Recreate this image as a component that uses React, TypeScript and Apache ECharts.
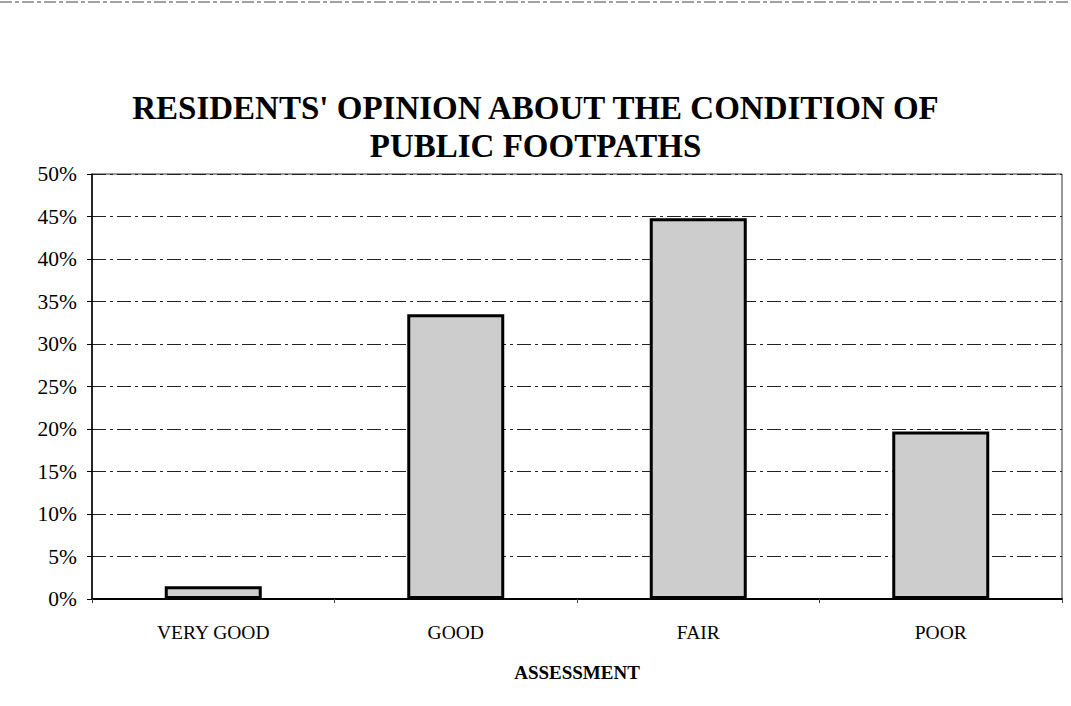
import React, { useEffect, useRef } from "react";
import * as echarts from "echarts";

const categories: string[] = ["VERY GOOD", "GOOD", "FAIR", "POOR"];
const values: number[] = [1.5, 33.5, 44.8, 19.7];
const yTicks: number[] = [0, 5, 10, 15, 20, 25, 30, 35, 40, 45, 50];
const titleText = "RESIDENTS' OPINION ABOUT THE CONDITION OF\nPUBLIC FOOTPATHS";
const xAxisName = "ASSESSMENT";

const FONT = "'Liberation Serif', 'Times New Roman', serif";

export default function App() {
  const ref = useRef<HTMLDivElement>(null);
  useEffect(() => {
    if (!ref.current) return;
    const chart = echarts.init(ref.current, null, { renderer: "svg" });
    chart.setOption({
      animation: false,
      backgroundColor: "#ffffff",
      title: {
        text: titleText,
        left: "center",
        top: 84,
        textStyle: {
          fontFamily: FONT,
          fontWeight: "bold",
          fontSize: 33,
          lineHeight: 38,
          color: "#000",
        },
      },
      grid: {
        left: 92,
        right: 9,
        top: 174,
        bottom: 107,
        show: true,
        borderColor: "#333",
        borderWidth: 1,
      },
      xAxis: {
        type: "category",
        data: categories,
        name: xAxisName,
        nameLocation: "middle",
        nameGap: 64,
        nameTextStyle: {
          fontFamily: FONT,
          fontWeight: "bold",
          fontSize: 19,
          color: "#000",
        },
        axisLine: { show: true, lineStyle: { color: "#000", width: 2 } },
        axisTick: { show: true, length: 4, lineStyle: { color: "#444" } },
        axisLabel: {
          fontFamily: FONT,
          fontSize: 19.5,
          color: "#000",
          margin: 23,
        },
      },
      yAxis: {
        type: "value",
        min: 0,
        max: 50,
        interval: 5,
        axisLine: { show: true, lineStyle: { color: "#000", width: 1.5 } },
        axisTick: { show: true, length: 5, lineStyle: { color: "#000" } },
        axisLabel: {
          fontFamily: FONT,
          fontSize: 21.5,
          color: "#000",
          margin: 15,
          formatter: (v: number) => (yTicks.includes(v) ? `${v}%` : ""),
        },
        splitLine: {
          show: true,
          lineStyle: { color: "#222", width: 1, type: [14, 4, 3, 4] },
        },
      },
      series: [
        {
          type: "bar",
          data: values,
          barWidth: "40%",
          itemStyle: {
            color: "#cdcdcd",
            borderColor: "#000",
            borderWidth: 3,
          },
        },
      ],
      graphic: [
        {
          type: "line",
          shape: { x1: 0, y1: 2, x2: 1071, y2: 2 },
          style: { stroke: "#444", lineWidth: 1, lineDash: [12, 3, 4, 3] },
        },
      ],
    });
    return () => chart.dispose();
  }, []);
  return (
    <div
      ref={ref}
      style={{ position: "fixed", left: 0, top: 0, width: 1071, height: 706 }}
    />
  );
}
